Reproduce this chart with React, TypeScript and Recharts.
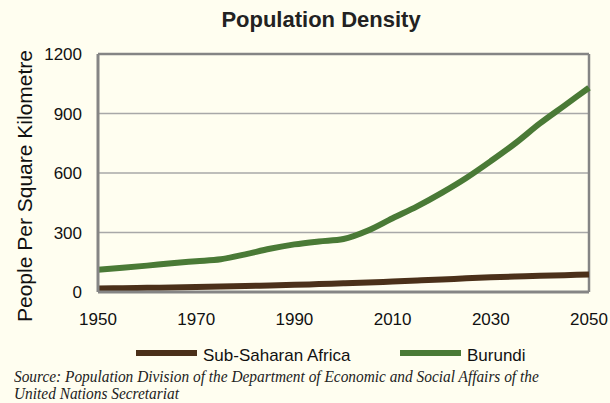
import { LineChart, Line, XAxis, YAxis, CartesianGrid, ReferenceLine } from "recharts";

const years = [1950, 1955, 1960, 1965, 1970, 1975, 1980, 1985, 1990, 1995, 2000, 2005, 2010, 2015, 2020, 2025, 2030, 2035, 2040, 2045, 2050];
const subSaharan = [18, 19, 21, 23, 25, 28, 30, 33, 36, 40, 44, 48, 53, 58, 63, 69, 74, 78, 82, 85, 88];
const burundi = [112, 122, 133, 145, 155, 165, 190, 218, 240, 255, 267, 310, 372, 432, 500, 575, 660, 750, 850, 940, 1030];
const xTicks = [1950, 1970, 1990, 2010, 2030, 2050];
const yTicks = [0, 300, 600, 900, 1200];

const series = [
  { key: "ssa", name: "Sub-Saharan Africa", color: "#4b3019" },
  { key: "burundi", name: "Burundi", color: "#4a7a36" },
];

const data = years.map((y, i) => ({ year: y, ssa: subSaharan[i], burundi: burundi[i] }));

const BG = "#fffef0";
const BORDER = "#858585";

const App = () => {
  return (
    <div style={{ position: "absolute", left: 0, top: 0, width: 610, height: 403, background: BG, fontFamily: "'Liberation Sans', Arial, sans-serif", overflow: "hidden" }}>
      <div style={{ position: "absolute", left: 0, width: 642, top: 7, textAlign: "center", fontWeight: "bold", fontSize: 22, color: "#222" }}>
        Population Density
      </div>
      <div style={{ position: "absolute", left: 25, top: 186, transform: "translate(-50%, -50%) rotate(-90deg)", whiteSpace: "nowrap", fontSize: 21, color: "#111" }}>
        People Per Square Kilometre
      </div>
      <LineChart width={610} height={403} data={data} margin={{ top: 54, right: 21, bottom: 81, left: 0 }}>
        <CartesianGrid vertical={false} stroke="#a8a8a8" strokeWidth={1.5} />
        <XAxis
          dataKey="year"
          type="number"
          domain={[1950, 2050]}
          ticks={xTicks}
          height={30}
          tickLine={false}
          axisLine={{ stroke: BORDER, strokeWidth: 3 }}
          tickMargin={15}
          tick={{ fill: "#111", fontSize: 17 }}
        />
        <YAxis
          domain={[0, 1200]}
          ticks={yTicks}
          width={98}
          tickLine={false}
          axisLine={{ stroke: BORDER, strokeWidth: 3 }}
          tickMargin={10}
          tick={{ fill: "#111", fontSize: 17 }}
        />
        <ReferenceLine y={1200} stroke={BORDER} strokeWidth={2.5} />
        <ReferenceLine x={2050} stroke={BORDER} strokeWidth={2.5} />
        {series.map((s) => (
          <Line key={s.key} type="monotone" dataKey={s.key} name={s.name} stroke={s.color} strokeWidth={6} dot={false} isAnimationActive={false} />
        ))}
      </LineChart>
      {series.map((s, i) => (
        <div key={s.key} style={{ position: "absolute", left: i === 0 ? 136 : 400, top: 346, display: "flex", alignItems: "center", fontSize: 17, color: "#111" }}>
          <div style={{ width: 61, height: 6, background: s.color, marginRight: 6, marginTop: -6 }} />
          <span>{s.name}</span>
        </div>
      ))}
      <div style={{ position: "absolute", left: 14, top: 368, whiteSpace: "nowrap", transform: "scaleX(0.96)", transformOrigin: "left top", fontFamily: "'Liberation Serif', 'Times New Roman', serif", fontStyle: "italic", fontSize: 16, lineHeight: "17px", color: "#222" }}>
        Source: Population Division of the Department of Economic and Social Affairs of the
        <br />
        United Nations Secretariat
      </div>
    </div>
  );
};

export default App;
